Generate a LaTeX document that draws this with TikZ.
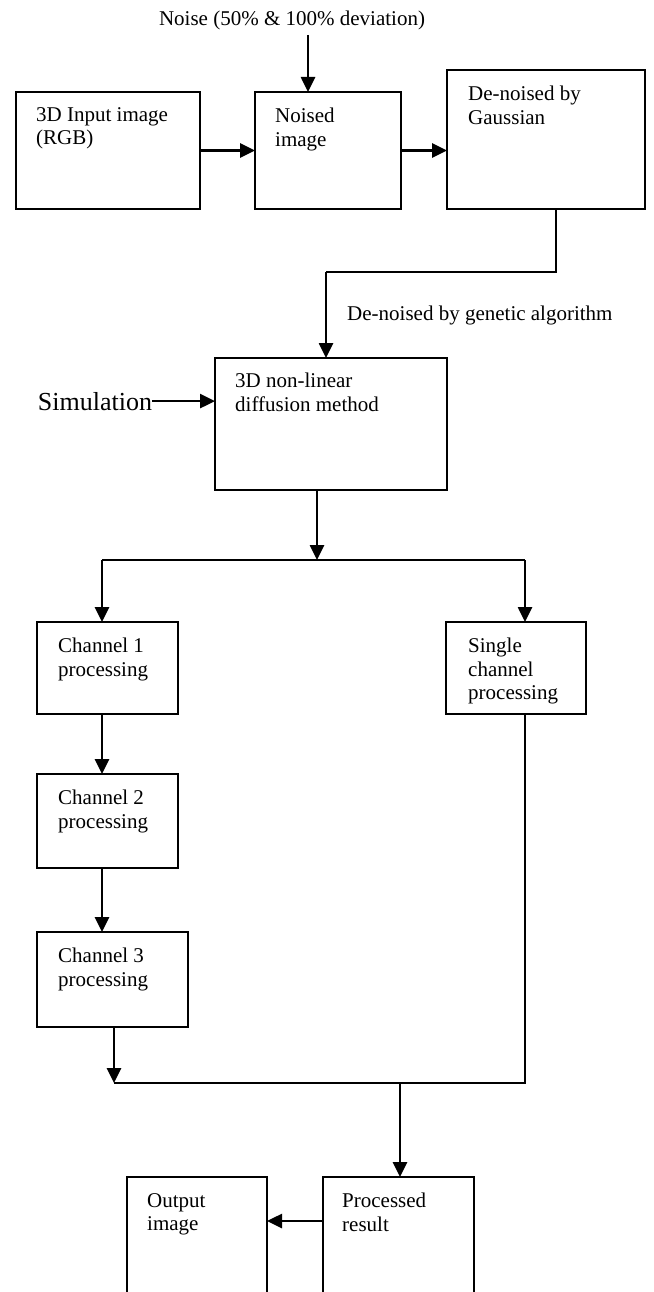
\documentclass[tikz,border=0pt]{standalone}
\usepackage{fontspec}
\setmainfont{Liberation Serif}
\usetikzlibrary{arrows.meta}
\begin{document}
\begin{tikzpicture}[x=1pt,y=-1pt,
  box/.style={draw,line width=2.2pt,inner sep=0pt,outer sep=0pt,anchor=north west},
  txt/.style={anchor=north west,inner sep=0pt,align=left,font=\fontsize{21}{23.5}\selectfont},
  lab/.style={inner sep=0pt,font=\fontsize{21}{23.5}\selectfont},
  arr/.style={line width=2.6pt,-{Triangle[length=15pt,width=14pt]}},
  ln/.style={line width=1.9pt}]
\clip (0,0) rectangle (653,1292);
\fill[white] (0,0) rectangle (653,1292);

% boxes
\node[box,minimum width=184pt,minimum height=117pt] (b1) at (16,92) {};
\node[box,minimum width=146pt,minimum height=117pt] (b2) at (255,92) {};
\node[box,minimum width=198pt,minimum height=139pt] (b3) at (447,70) {};
\node[box,minimum width=232pt,minimum height=132pt] (b4) at (215,358) {};
\node[box,minimum width=141pt,minimum height=92pt] (b5) at (37,622) {};
\node[box,minimum width=140pt,minimum height=92pt] (b6) at (446,622) {};
\node[box,minimum width=141pt,minimum height=94pt] (b7) at (37,774) {};
\node[box,minimum width=151pt,minimum height=95pt] (b8) at (37,932) {};
\node[box,minimum width=140pt,minimum height=140pt] (b9) at (127,1177) {};
\node[box,minimum width=151pt,minimum height=140pt] (b10) at (323,1177) {};

% box texts
\node[txt] (t1) at ([shift={(20pt,-15pt)}]b1.north west) {3D Input image\\(RGB)};
\node[txt] (t2) at ([shift={(20pt,-16pt)}]b2.north west) {Noised\\image};
\node[txt] (t3) at ([shift={(21pt,-16pt)}]b3.north west) {De-noised by\\Gaussian};
\node[txt] (t4) at ([shift={(20pt,-15pt)}]b4.north west) {3D non-linear\\diffusion method};
\node[txt] (t5) at ([shift={(21pt,-16pt)}]b5.north west) {Channel 1\\processing};
\node[txt] (t6) at ([shift={(22pt,-16pt)}]b6.north west) {Single\\channel\\processing};
\node[txt] (t7) at ([shift={(21pt,-16pt)}]b7.north west) {Channel 2\\processing};
\node[txt] (t8) at ([shift={(21pt,-16pt)}]b8.north west) {Channel 3\\processing};
\node[txt] (t9) at ([shift={(20pt,-16pt)}]b9.north west) {Output\\image};
\node[txt] (t10) at ([shift={(19pt,-16pt)}]b10.north west) {Processed\\result};

% free labels
\node[lab,anchor=base] (noise) at (292,26) {Noise (50\% \& 100\% deviation)};
\node[lab,anchor=base west] (gen) at (347,320) {De-noised by genetic algorithm};
\node[inner sep=0pt,outer sep=0pt,font=\fontsize{26}{30}\selectfont,anchor=base east] (sim) at (152,410) {Simulation};

% connectors
\coordinate (nz) at (308,35);
\draw[arr] (nz) -- (nz |- b2.north);
\draw[arr] (b1.east) -- (b2.west);
\draw[arr] (b2.east) -- (b2.east -| b3.west);

\coordinate (g1) at (556,272);
\coordinate (g2) at (326,272);
\draw[ln] (g1 |- b3.south) -- (g1) -- (g2);
\draw[arr] (g2) -- (g2 |- b4.north);

\draw[arr] (sim.east) -- (sim.east -| b4.west);

\coordinate (s) at (317,560);
\coordinate (sl) at (102,560);
\coordinate (sr) at (525,560);
\draw[arr] (s |- b4.south) -- (s);
\draw[ln] (sl) -- (sr);
\draw[arr] (sl) -- (sl |- b5.north);
\draw[arr] (sr) -- (sr |- b6.north);
\draw[arr] (sl |- b5.south) -- (sl |- b7.north);
\draw[arr] (sl |- b7.south) -- (sl |- b8.north);

\coordinate (ml) at (114,1083);
\coordinate (mr) at (525,1083);
\coordinate (m) at (400,1083);
\draw[arr] (ml |- b8.south) -- (ml);
\draw[ln] (sr |- b6.south) -- (mr) -- (ml);
\draw[arr] (m) -- (m |- b10.north);

\coordinate (oy) at (0,1221);
\draw[arr] (b10.west |- oy) -- (b9.east |- oy);
\end{tikzpicture}
\end{document}
